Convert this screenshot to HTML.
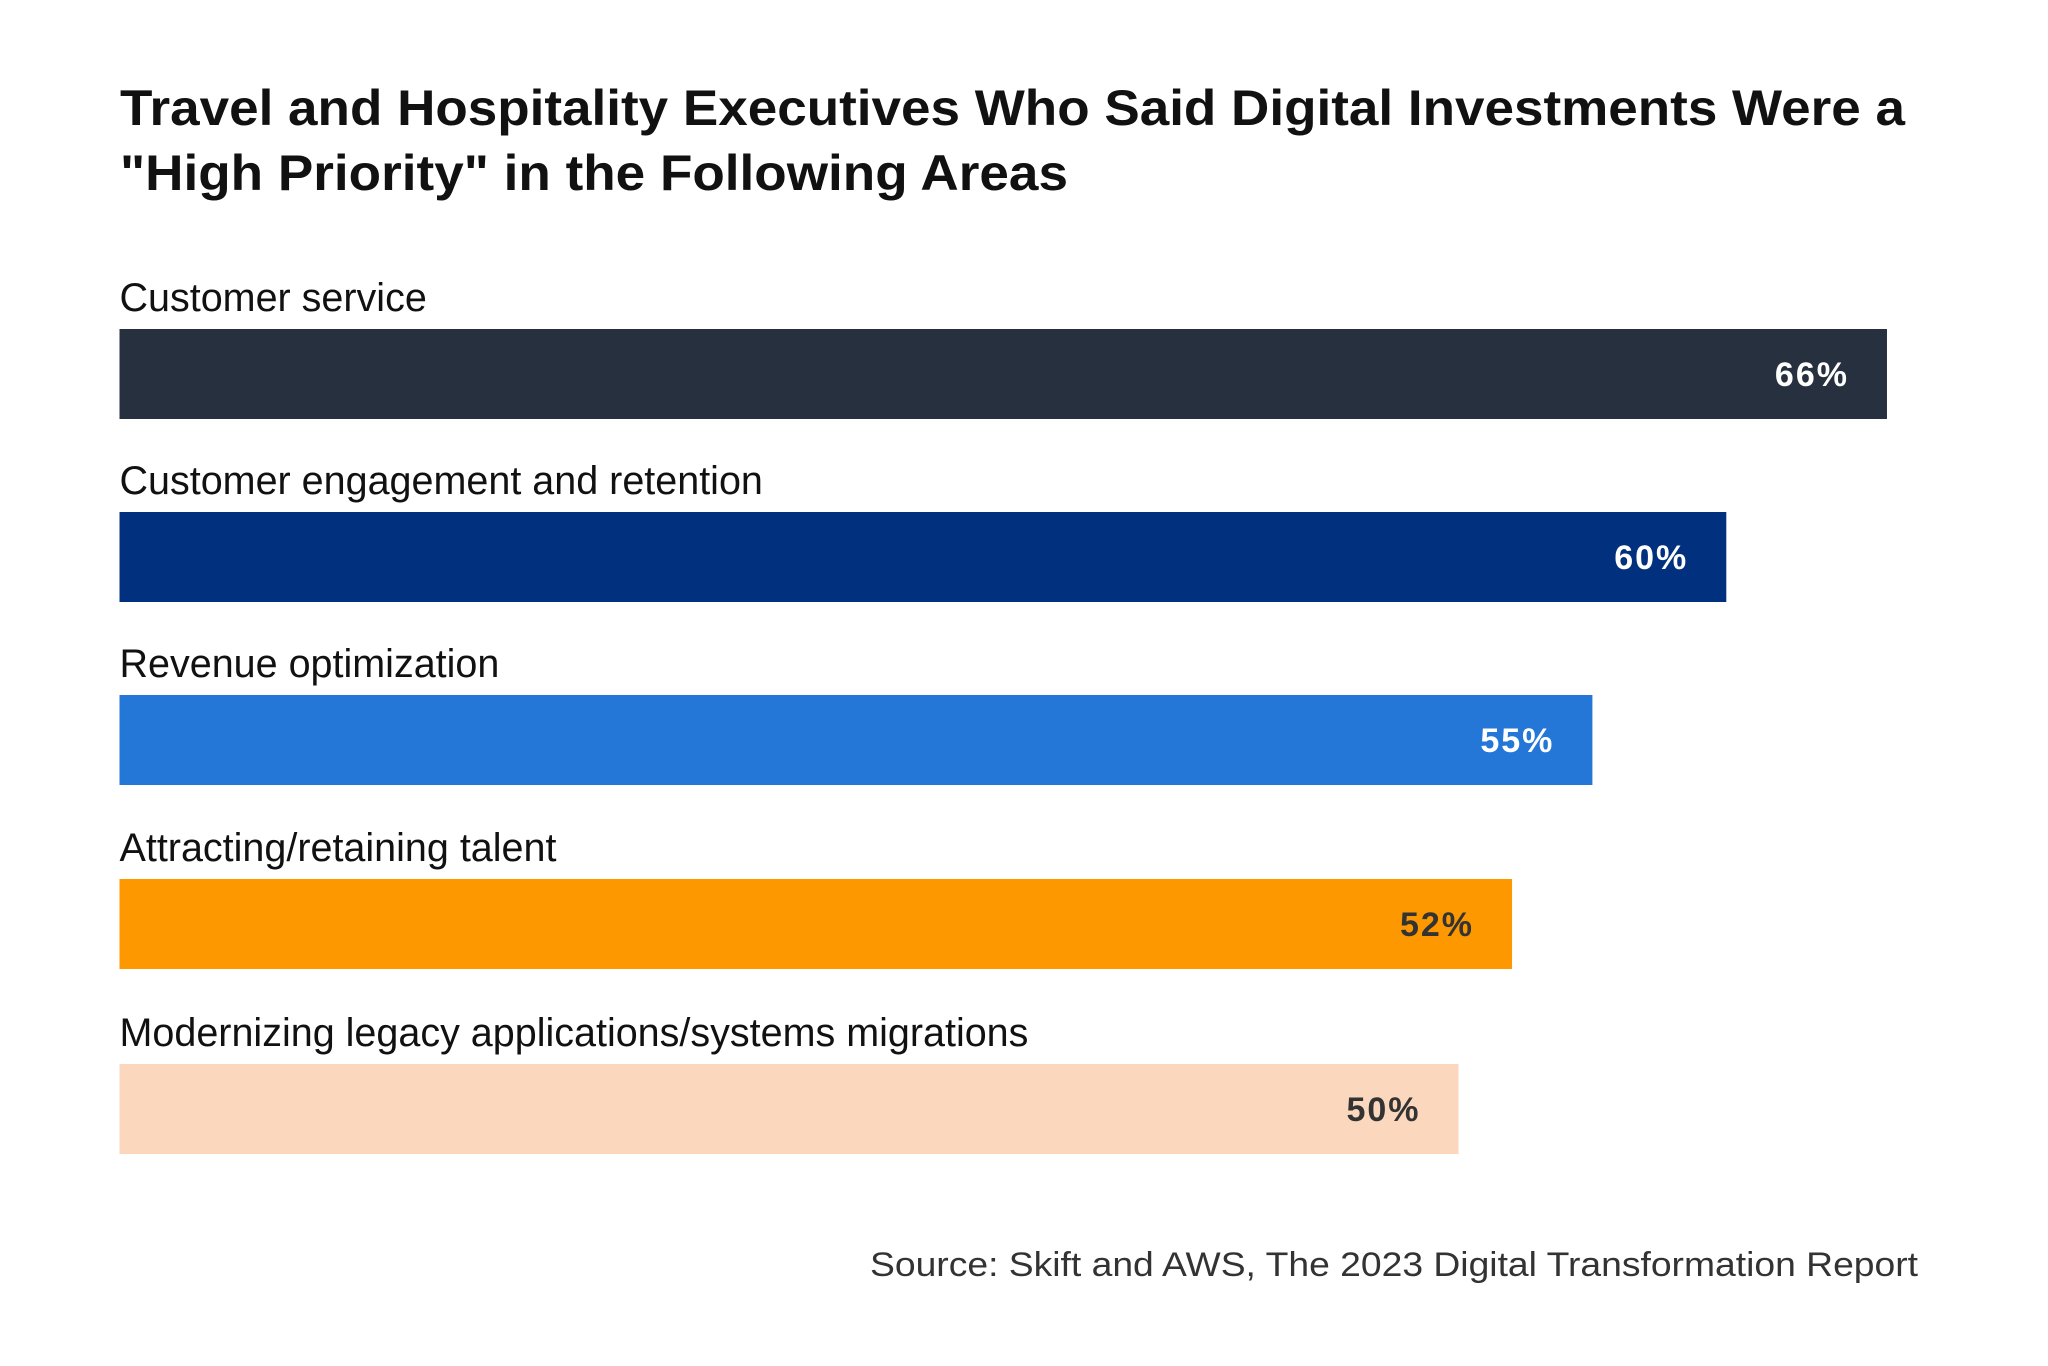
<!DOCTYPE html>
<html><head><meta charset="utf-8"><style>
html,body{margin:0;padding:0;background:#fff;}
svg{display:block;font-family:"Liberation Sans",sans-serif;}
</style></head><body>
<svg id="chart" width="2048" height="1366" viewBox="0 0 2048 1366">
<rect x="0" y="0" width="2048" height="1366" fill="#fff"/>
<text x="120" y="125" font-size="50" font-weight="bold" fill="#111" textLength="1785" lengthAdjust="spacingAndGlyphs">Travel and Hospitality Executives Who Said Digital Investments Were a</text>
<text x="120" y="190" font-size="50" font-weight="bold" fill="#111" textLength="948" lengthAdjust="spacingAndGlyphs">"High Priority" in the Following Areas</text>
<g id="bars"></g>
<text x="1918" y="1276" font-size="34" fill="#333" text-anchor="end" textLength="1048" lengthAdjust="spacingAndGlyphs">Source: Skift and AWS, The 2023 Digital Transformation Report</text>
</svg>
<script>
const categories = ["Customer service","Customer engagement and retention","Revenue optimization","Attracting/retaining talent","Modernizing legacy applications/systems migrations"];
const values = [66, 60, 55, 52, 50];
const valueLabels = ["66%","60%","55%","52%","50%"];
const colors = ["#26303f","#00307e","#2476d7","#fd9800","#fbd7be"];
const labelColors = ["#fff","#fff","#fff","#333","#333"];

const x0 = 119.5, pxPerUnit = 26.78;
const xScale = v => x0 + v * pxPerUnit;
const rowTop = [329, 512, 695, 879, 1064];
const barH = 90;
const ns = "http://www.w3.org/2000/svg";
const g = document.getElementById("bars");
categories.forEach((c, i) => {
  const y = rowTop[i];
  const lab = document.createElementNS(ns, "text");
  
  
  lab.setAttribute("x", x0);
  lab.setAttribute("y", y - 18);
  lab.setAttribute("font-size", "39.5");
  lab.setAttribute("fill", "#111");
  lab.textContent = c;
  g.appendChild(lab);
  const r = document.createElementNS(ns, "rect");
  
  
  r.setAttribute("x", x0);
  r.setAttribute("y", y);
  r.setAttribute("width", xScale(values[i]) - x0);
  r.setAttribute("height", barH);
  r.setAttribute("fill", colors[i]);
  g.appendChild(r);
  const v = document.createElementNS(ns, "text");
  
  
  v.setAttribute("x", xScale(values[i]) - 38);
  v.setAttribute("y", y + barH / 2 + 12);
  v.setAttribute("font-size", "34");
  v.setAttribute("font-weight", "bold");
  v.setAttribute("letter-spacing", "2");
  v.setAttribute("text-anchor", "end");
  v.setAttribute("fill", labelColors[i]);
  v.textContent = valueLabels[i];
  g.appendChild(v);
});
</script>
</body></html>
